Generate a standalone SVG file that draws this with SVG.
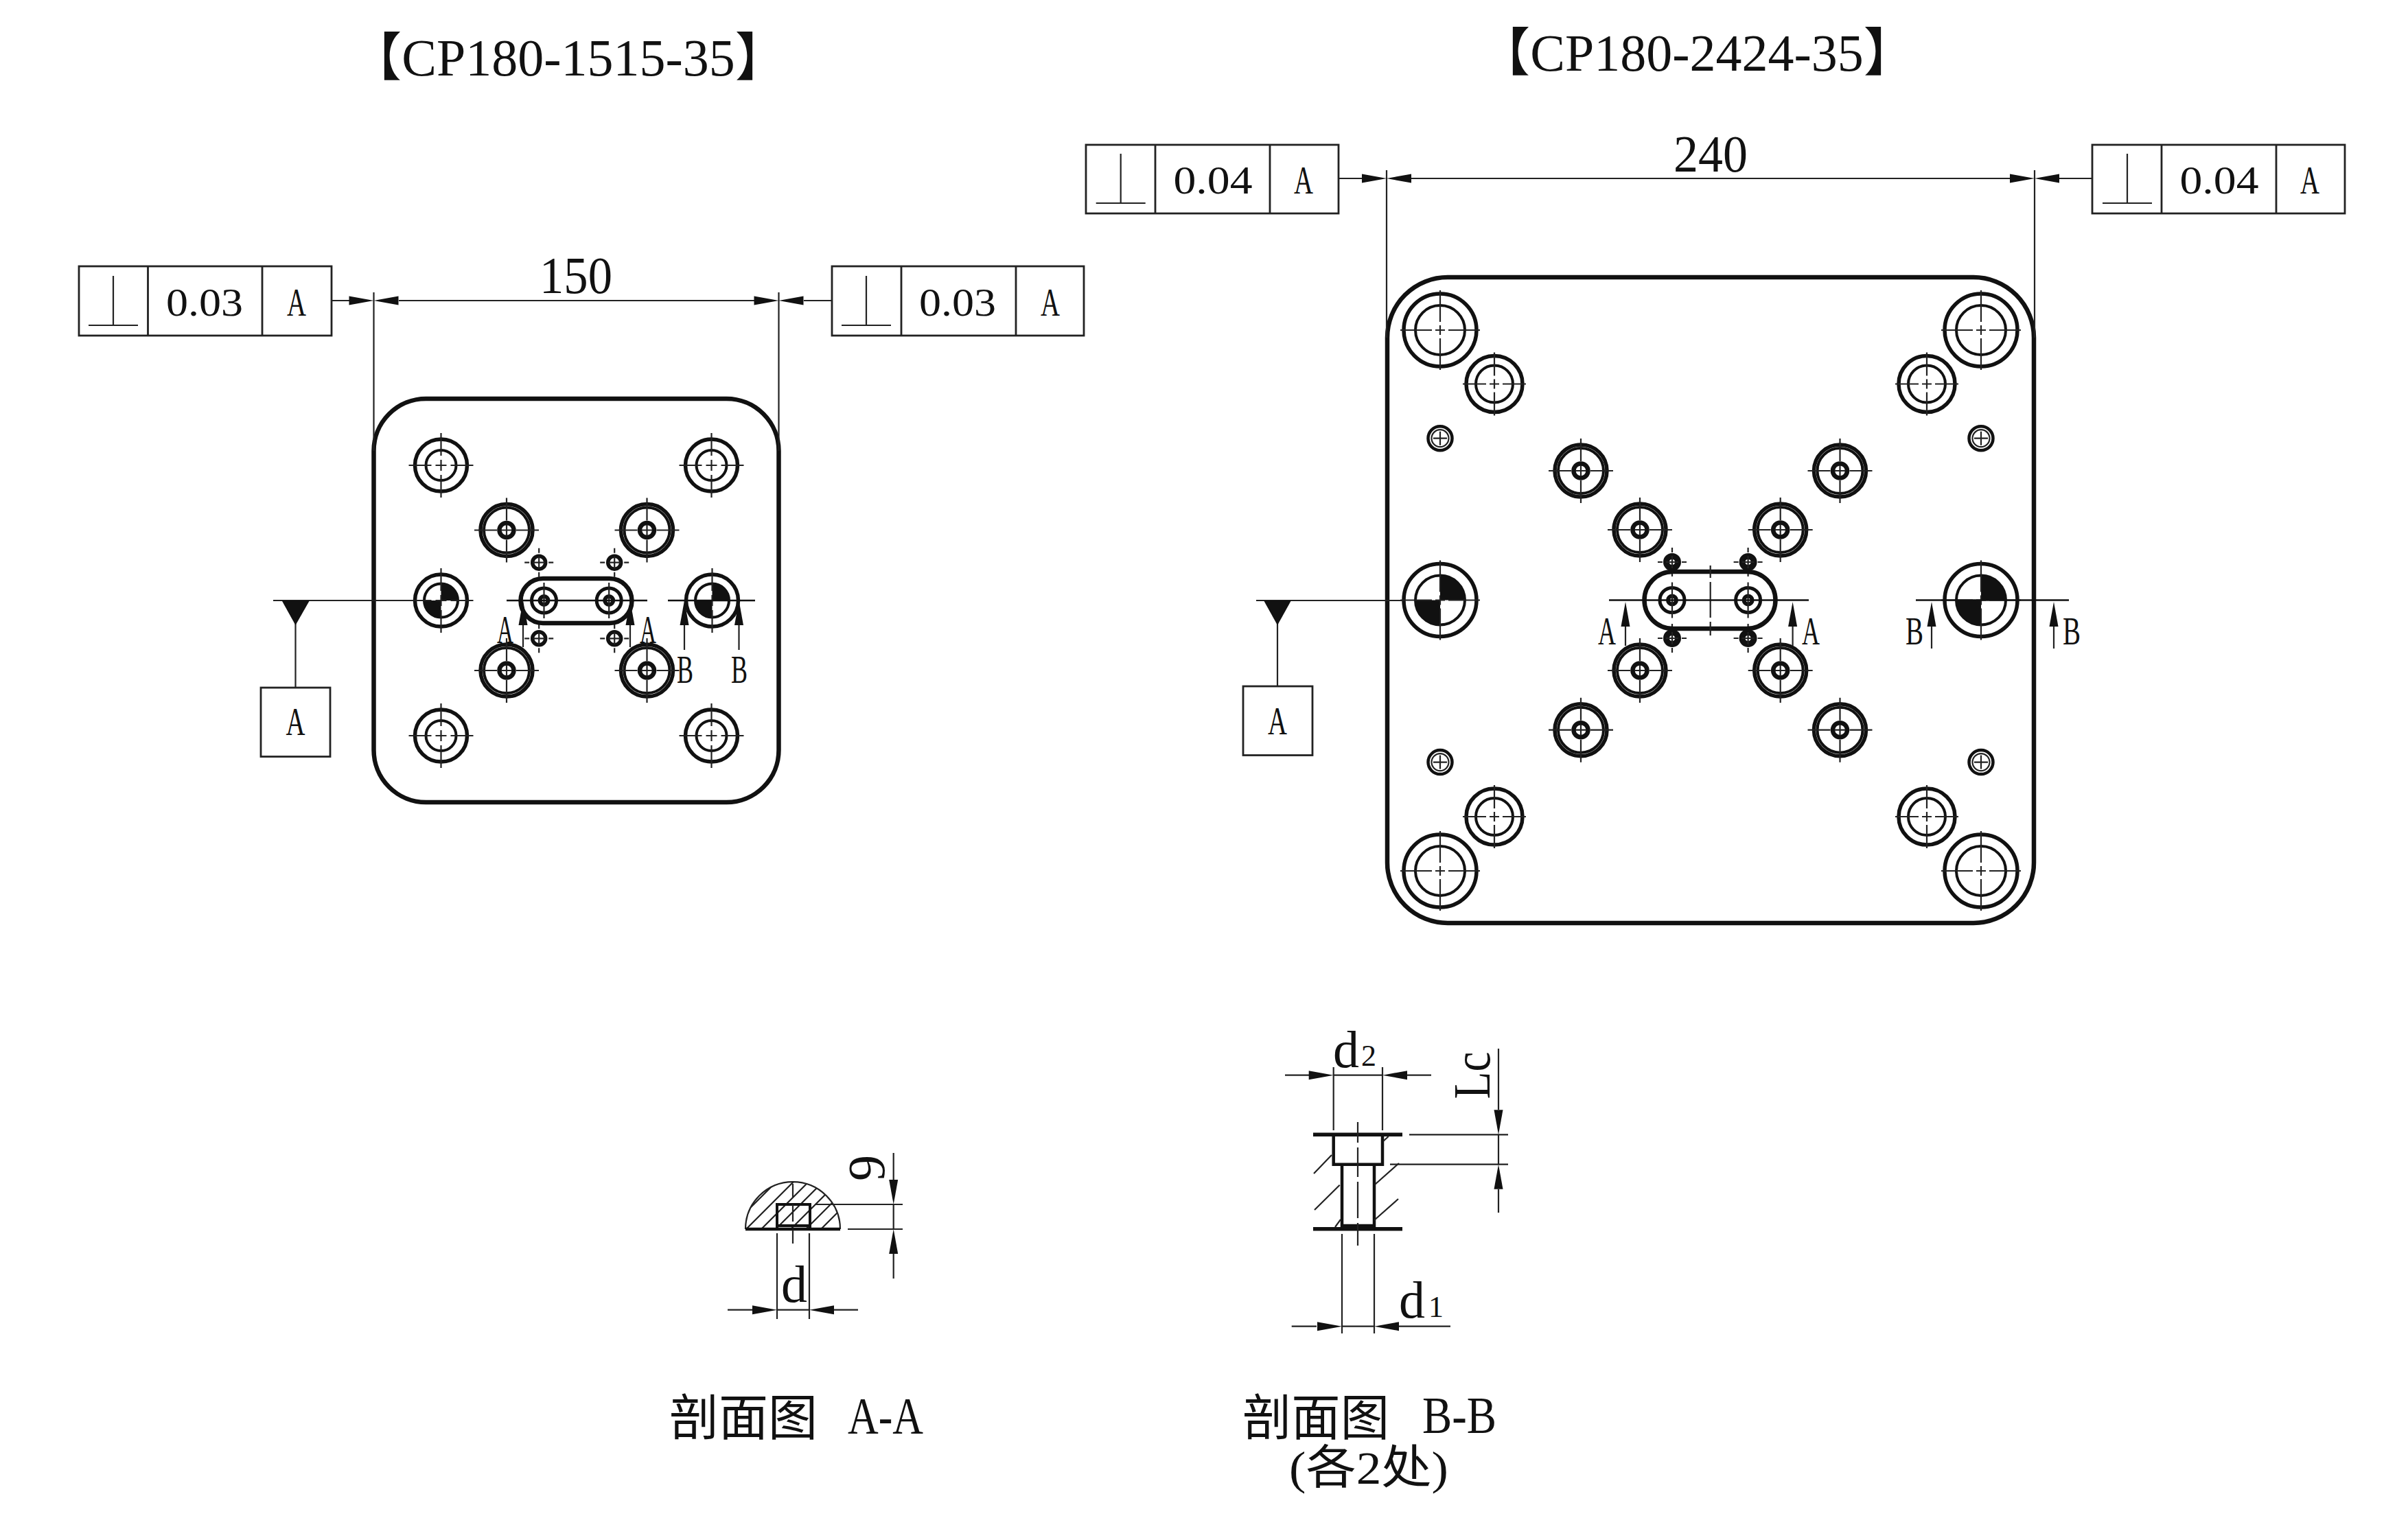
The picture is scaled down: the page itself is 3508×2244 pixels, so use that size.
<svg xmlns="http://www.w3.org/2000/svg" width="3508" height="2244" viewBox="0 0 3508 2244">
<style>
text{font-family:"Liberation Serif","Noto Sans CJK SC",serif;fill:#111;text-anchor:middle;font-size:76px}
.cjk{font-family:"Noto Sans CJK SC","Liberation Serif",sans-serif;font-size:72px}
.s{font-size:58px}
.sub{font-size:44px}
.pl{fill:none;stroke:#111;stroke-width:6.5}
.tk{fill:none;stroke:#111;stroke-width:5.5}
.md{fill:none;stroke:#111;stroke-width:4}
.tn{fill:none;stroke:#222;stroke-width:2.2}
.fr{fill:none;stroke:#222;stroke-width:2.8}
.f{fill:#111;stroke:none}
</style>
<defs>
<path id="ah" class="f" d="M0 0L-36 -6.500V6.500Z"/>
<path id="x20" class="tn" d="M-21 0H-14M-9 0H9M14 0H21M0 -21V-14M0 -9V9M0 14V21"/>
<path id="x48" class="tn" d="M-47 0H-14M-8 0H8M14 0H47M0 -47V-14M0 -8V8M0 14V47"/>
<path id="x60" class="tn" d="M-58 0H-12M-7 0H7M12 0H58M0 -58V-12M0 -7V7M0 12V58"/>
<g id="c1"><circle r="38" class="tk"/><circle r="22" class="md"/><use href="#x48"/></g>
<g id="m"><circle r="38" class="tk"/><circle r="33" class="md"/><circle r="10.500" class="tk" style="stroke-width:6.500"/><use href="#x48"/></g>
<g id="t"><circle r="9.500" class="tk"/><use href="#x20"/></g>
<g id="td"><circle r="8.500" class="tk" style="stroke-width:9"/><use href="#x20"/></g>
<g id="d1"><circle r="38" class="tk"/><circle r="24.500" class="md"/><path class="f" d="M0 0V-24A24 24 0 0 1 24 0ZM0 0V24A24 24 0 0 1 -24 0Z"/><use href="#x48"/></g>
<g id="c2"><circle r="53" class="tk"/><circle r="36" class="md"/><use href="#x60"/></g>
<g id="c3"><circle r="41" class="tk"/><circle r="27" class="md"/><path class="tn" d="M-46 0H-12M-7 0H7M12 0H46M0 -46V-12M0 -7V7M0 12V46"/></g>
<g id="c4"><circle r="17.500" class="md" style="stroke-width:4.500"/><circle r="12.500" class="tn"/><path class="tn" d="M-10 0H10M0 -10V10"/></g>
<g id="d2"><circle r="53" class="tk"/><circle r="36" class="md"/><path class="f" d="M0 0V-36A36 36 0 0 1 36 0ZM0 0V36A36 36 0 0 1 -36 0Z"/><use href="#x60"/></g>
<g id="sl1"><circle r="18" class="tk" style="stroke-width:5"/><circle r="6" class="tk" style="stroke-width:6"/><path class="tn" d="M0 -26V26"/></g>
<path id="perp" class="tn" d="M0 0V72M-36 72H36"/>
<clipPath id="dome"><path d="M1086 1791A69 69 0 0 1 1224 1791Z"/></clipPath>
</defs>
<rect width="3508" height="2244" fill="#fff"/>

<text id="title-1" x="828" y="110">【CP180-1515-35】</text>
<text id="title-2" x="2472" y="103">【CP180-2424-35】</text>

<g id="plate-1" transform="translate(1.500 0)">
<rect class="pl" x="543" y="581" width="590" height="588" rx="76" ry="76"/>
<use href="#c1" x="641" y="678"/><use href="#c1" x="1035" y="678"/><use href="#c1" x="641" y="1072"/><use href="#c1" x="1035" y="1072"/>
<use href="#m" x="736.500" y="772.500"/><use href="#m" x="941" y="772.500"/><use href="#m" x="736.500" y="977"/><use href="#m" x="941" y="977"/>
<use href="#t" x="783.700" y="819.700"/><use href="#t" x="893.700" y="819.700"/><use href="#t" x="783.700" y="930.300"/><use href="#t" x="893.700" y="930.300"/>
<use href="#d1" x="641" y="875"/><use href="#d1" x="1036" y="875"/>
<rect class="pl" x="757" y="843" width="162" height="65" rx="32.500" ry="32.500"/>
<use href="#sl1" x="791" y="875"/><use href="#sl1" x="885.700" y="875"/>
</g>

<g id="plate-2">
<rect class="pl" x="2021" y="404" width="942" height="941" rx="88" ry="88"/>
<use href="#c2" x="2098" y="481"/><use href="#c2" x="2886" y="481"/><use href="#c2" x="2098" y="1269"/><use href="#c2" x="2886" y="1269"/>
<use href="#c3" x="2177" y="559.500"/><use href="#c3" x="2807" y="559.500"/><use href="#c3" x="2177" y="1190"/><use href="#c3" x="2807" y="1190"/>
<use href="#c4" x="2098" y="638.700"/><use href="#c4" x="2886" y="638.700"/><use href="#c4" x="2098" y="1110.600"/><use href="#c4" x="2886" y="1110.600"/>
<use href="#m" x="2303" y="686"/><use href="#m" x="2680.500" y="686"/><use href="#m" x="2303" y="1063.700"/><use href="#m" x="2680.500" y="1063.700"/>
<use href="#m" x="2389" y="772"/><use href="#m" x="2593.700" y="772"/><use href="#m" x="2389" y="977"/><use href="#m" x="2593.700" y="977"/>
<use href="#td" x="2436" y="819"/><use href="#td" x="2546.600" y="819"/><use href="#td" x="2436" y="930"/><use href="#td" x="2546.600" y="930"/>
<use href="#d2" x="2098" y="874.500"/><use href="#d2" x="2886" y="874.500"/>
<rect class="pl" x="2395.500" y="833" width="191" height="83" rx="41.500" ry="41.500"/>
<use href="#sl1" x="2436" y="874.500"/><use href="#sl1" x="2546.600" y="874.500"/>
<path class="tn" d="M2491.700 824V842M2491.700 848V900M2491.700 906V926"/>
</g>

<g id="connectors">
<path class="tn" d="M482 438H509M581 438H1099M1171 438H1212M544.500 426V657M1134.500 426V657"/>
<use href="#ah" transform="translate(544.500 438)"/><use href="#ah" transform="translate(544.500 438) rotate(180)"/>
<use href="#ah" transform="translate(1134.500 438)"/><use href="#ah" transform="translate(1134.500 438) rotate(180)"/>
<path class="tn" d="M1950 260H1984M2056 260H2928M3000 260H3048M2020 248V492M2964 248V492"/>
<use href="#ah" transform="translate(2020 260)"/><use href="#ah" transform="translate(2020 260) rotate(180)"/>
<use href="#ah" transform="translate(2964 260)"/><use href="#ah" transform="translate(2964 260) rotate(180)"/>
<path class="tn" d="M398 875H604M430.500 905V1002"/>
<path class="f" d="M410.500 875H451L430.500 911Z"/>
<path class="tn" d="M1830 875H2045M1861 905V1000"/>
<path class="f" d="M1841 875H1881L1861 911Z"/>
<path class="md" d="M738 875H943M973 875H1100" style="stroke-width:2.600"/>
<path class="tn" d="M762 905V943M918 905V943M997 905V947M1076.500 905V947"/>
<use href="#ah" transform="translate(762 875) rotate(-90)"/><use href="#ah" transform="translate(918 875) rotate(-90)"/><use href="#ah" transform="translate(997 875) rotate(-90)"/><use href="#ah" transform="translate(1076.500 875) rotate(-90)"/>
<path class="md" d="M2344 874.500H2635M2791 874.500H3014" style="stroke-width:2.600"/>
<path class="tn" d="M2368 905V941M2611.600 905V941M2814 905V945M2992 905V945"/>
<use href="#ah" transform="translate(2368 877) rotate(-90)"/><use href="#ah" transform="translate(2611.600 877) rotate(-90)"/><use href="#ah" transform="translate(2814 877) rotate(-90)"/><use href="#ah" transform="translate(2992 877) rotate(-90)"/>
</g>

<g id="fcf-1">
<rect class="fr" x="115" y="388" width="368" height="101"/><path class="fr" d="M215.500 388V489M382 388V489"/>
<use href="#perp" transform="translate(165 402)"/>
<text class="s" x="298" y="460" textLength="112" lengthAdjust="spacingAndGlyphs">0.03</text>
<text class="s" x="432" y="460" textLength="28" lengthAdjust="spacingAndGlyphs">A</text>
</g>
<g id="fcf-2">
<rect class="fr" x="1212" y="388" width="367" height="101"/><path class="fr" d="M1313 388V489M1480 388V489"/>
<use href="#perp" transform="translate(1262 402)"/>
<text class="s" x="1395" y="460" textLength="112" lengthAdjust="spacingAndGlyphs">0.03</text>
<text class="s" x="1530" y="460" textLength="28" lengthAdjust="spacingAndGlyphs">A</text>
</g>
<g id="fcf-3">
<rect class="fr" x="1582" y="211" width="368" height="100"/><path class="fr" d="M1683 211V311M1850 211V311"/>
<use href="#perp" transform="translate(1632.700 224)"/>
<text class="s" x="1767" y="282" textLength="115" lengthAdjust="spacingAndGlyphs">0.04</text>
<text class="s" x="1899" y="282" textLength="28" lengthAdjust="spacingAndGlyphs">A</text>
</g>
<g id="fcf-4">
<rect class="fr" x="3048" y="211" width="368" height="100"/><path class="fr" d="M3149 211V311M3316 211V311"/>
<use href="#perp" transform="translate(3099 224)"/>
<text class="s" x="3233" y="282" textLength="115" lengthAdjust="spacingAndGlyphs">0.04</text>
<text class="s" x="3365" y="282" textLength="28" lengthAdjust="spacingAndGlyphs">A</text>
</g>
<g id="datum-1">
<rect class="fr" x="380" y="1002" width="101" height="100.500"/>
<text class="s" x="430.500" y="1071" textLength="28" lengthAdjust="spacingAndGlyphs">A</text>
</g>
<g id="datum-2">
<rect class="fr" x="1811" y="1000" width="101" height="100.500"/>
<text class="s" x="1861" y="1070" textLength="28" lengthAdjust="spacingAndGlyphs">A</text>
</g>

<g id="labels">
<text x="839" y="427" textLength="106" lengthAdjust="spacingAndGlyphs">150</text>
<text x="2492" y="250" textLength="108" lengthAdjust="spacingAndGlyphs">240</text>
<text class="s" x="736" y="937" textLength="24" lengthAdjust="spacingAndGlyphs">A</text>
<text class="s" x="944" y="937" textLength="24" lengthAdjust="spacingAndGlyphs">A</text>
<text class="s" x="998" y="995" textLength="24" lengthAdjust="spacingAndGlyphs">B</text>
<text class="s" x="1077" y="995" textLength="24" lengthAdjust="spacingAndGlyphs">B</text>
<text class="s" x="2341" y="939" textLength="26" lengthAdjust="spacingAndGlyphs">A</text>
<text class="s" x="2638" y="939" textLength="26" lengthAdjust="spacingAndGlyphs">A</text>
<text class="s" x="2789" y="939" textLength="26" lengthAdjust="spacingAndGlyphs">B</text>
<text class="s" x="3018" y="939" textLength="26" lengthAdjust="spacingAndGlyphs">B</text>
</g>

<g id="section-aa">
<g clip-path="url(#dome)"><path class="tn" d="M1086 1767L1224 1629M1086 1792L1224 1654M1086 1814L1224 1676M1086 1835L1224 1697M1086 1857L1224 1719M1086 1879L1224 1741M1086 1901L1224 1763"/></g>
<path class="tn" d="M1086 1791A69 69 0 0 1 1224 1791"/>
<rect x="1132" y="1755" width="48" height="36" fill="#fff" class="md"/>
<path class="md" d="M1132 1786H1180"/>
<path class="tk" style="stroke-width:4.500" d="M1086 1791H1224"/>
<path class="tn" d="M1155 1725V1745M1155 1755V1780M1155 1792V1812"/>
<path class="tn" d="M1132 1797V1922M1179 1797V1922M1060 1908.700H1096M1132 1908.700H1179M1215 1908.700H1250M1301.700 1680V1719M1301.700 1755V1791M1301.700 1827V1863M1187 1755H1315M1235 1791H1315"/>
<use href="#ah" transform="translate(1132 1908.700)"/><use href="#ah" transform="translate(1179 1908.700) rotate(180)"/>
<use href="#ah" transform="translate(1301.700 1755) rotate(90)"/><use href="#ah" transform="translate(1301.700 1791) rotate(-90)"/>
<text x="1157" y="1897">d</text>
<text transform="translate(1288 1702) rotate(-90)">9</text>
<text class="cjk" x="1083" y="2091" textLength="216" lengthAdjust="spacingAndGlyphs">剖面图</text>
<text x="1290" y="2089" textLength="110" lengthAdjust="spacingAndGlyphs">A-A</text>
</g>

<g id="section-bb">
<path class="tk" d="M1913 1653.300H2043M1913 1790.700H2043"/>
<path class="md" style="stroke-width:4.500" d="M1942.700 1653.300V1696.700H2014V1653.300M1955 1696.700V1790.700M2002 1696.700V1790.700M1955 1786H2002"/>
<path class="tn" d="M1978 1635V1665M1978 1672V1715M1978 1722V1775M1978 1782V1815"/>
<path class="tn" d="M1914 1710L1940 1683M1915 1763L1951.700 1726.700M1945 1788L1953 1777M2003 1726L2038 1695M2002 1778L2037 1747M2015 1663L2022.700 1656"/>
<path class="tn" d="M1942.700 1555V1647M2014 1555V1647M1872 1566.700H1907M1942.700 1566.700H2014M2050 1566.700H2085M1955 1798V1943M2002 1798V1943M1881.700 1932.700H1918M1955 1932.700H2002M2038 1932.700H2113M2183 1528V1617M2183 1653V1697M2183 1733V1767M2053 1653.300H2197M2025 1696.700H2197"/>
<use href="#ah" transform="translate(1942.700 1566.700)"/><use href="#ah" transform="translate(2014 1566.700) rotate(180)"/>
<use href="#ah" transform="translate(1955 1932.700)"/><use href="#ah" transform="translate(2002 1932.700) rotate(180)"/>
<use href="#ah" transform="translate(2183 1653.300) rotate(90)"/><use href="#ah" transform="translate(2183 1696.700) rotate(-90)"/>
<text x="1961" y="1555">d</text><text class="sub" x="1994" y="1553">2</text>
<text x="2057" y="1920">d</text><text class="sub" x="2092" y="1919">1</text>
<text transform="translate(2170 1567) rotate(-90)" textLength="69" lengthAdjust="spacingAndGlyphs">Lc</text>
<text class="cjk" x="1917" y="2091" textLength="214" lengthAdjust="spacingAndGlyphs">剖面图</text>
<text x="2126" y="2088" textLength="108" lengthAdjust="spacingAndGlyphs">B-B</text>
<text x="1994" y="2162" style="font-size:68px" textLength="232" lengthAdjust="spacingAndGlyphs">(各2处)</text>
</g>
</svg>
